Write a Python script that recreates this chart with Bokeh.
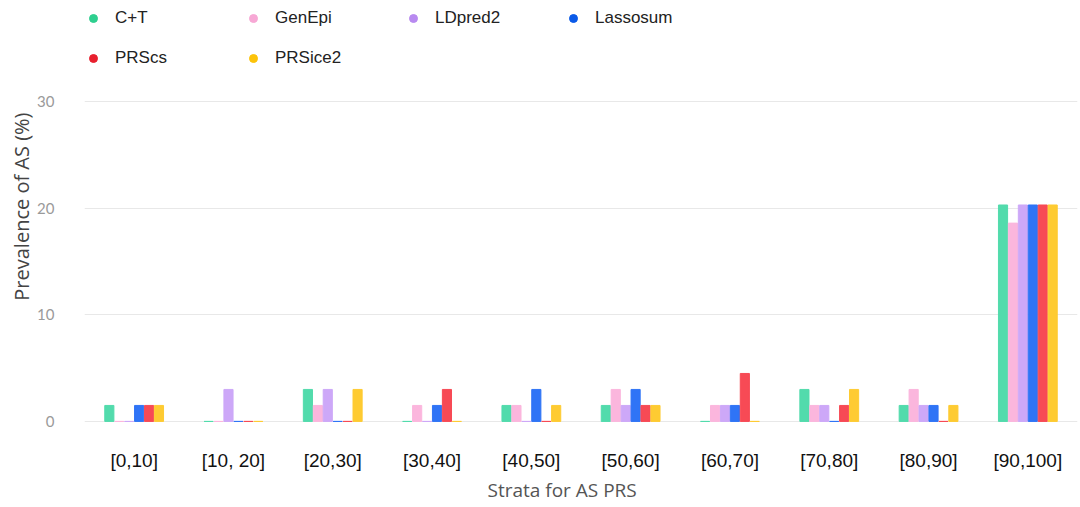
from bokeh.plotting import figure
from bokeh.models import ColumnDataSource, Range1d, Legend, LegendItem, Title, FactorRange, FixedTicker
from bokeh.transform import dodge
from bokeh.embed import file_html
from bokeh.resources import INLINE

strata = ["[0,10]", "[10, 20]", "[20,30]", "[30,40]", "[40,50]",
          "[50,60]", "[60,70]", "[70,80]", "[80,90]", "[90,100]"]
methods = ["C+T", "GenEpi", "LDpred2", "Lassosum", "PRScs", "PRSice2"]
ct = [1.5, 0, 3.0, 0, 1.5, 1.5, 0, 3.0, 1.5, 20.3]
genepi = [0, 0, 1.5, 1.5, 1.5, 3.0, 1.5, 1.5, 3.0, 18.6]
ldpred2 = [0, 3.0, 3.0, 0, 0, 1.5, 1.5, 1.5, 1.5, 20.3]
lassosum = [1.5, 0, 0, 1.5, 3.0, 3.0, 1.5, 0, 1.5, 20.3]
prscs = [1.5, 0, 0, 3.0, 0, 1.5, 4.5, 1.5, 0, 20.3]
prsice2 = [1.5, 0, 3.0, 0, 1.5, 1.5, 0, 3.0, 1.5, 20.3]
y_ticks = [0, 10, 20, 30]

bar_colors = ["#52dbac", "#fbb6dd", "#cda8f8", "#2f74f6", "#f74a55", "#fecb32"]
dot_colors = ["#2ecf8f", "#f7a8d5", "#b88af0", "#0a5ae8", "#e8202e", "#fcc30a"]
series = [ct, genepi, ldpred2, lassosum, prscs, prsice2]

src = ColumnDataSource(dict(strata=strata, **{m: s for m, s in zip(methods, series)}))

# frame spans from canvas top; the legend sits inside the frame's upper area
p = figure(x_range=FactorRange(factors=strata), y_range=Range1d(-0.1, 39.48),
           width=1080, height=507, output_backend="svg", toolbar_location=None,
           min_border_left=84, min_border_right=3, min_border_top=0, min_border_bottom=85)
p.outline_line_color = None
p.xgrid.grid_line_color = None
p.ygrid.grid_line_color = "#e8e8e8"
p.yaxis.ticker = FixedTicker(ticks=y_ticks)
for ax in (p.xaxis, p.yaxis):
    ax.axis_line_color = None
    ax.major_tick_line_color = None
    ax.minor_tick_line_color = None
p.xaxis.major_label_text_font = "Liberation Sans"
p.xaxis.major_label_text_font_size = "19px"
p.xaxis.major_label_text_color = "#111111"
p.xaxis.major_label_standoff = 21
p.yaxis.major_label_text_font = "Lato"
p.yaxis.major_label_text_font_size = "15px"
p.yaxis.major_label_text_color = "#9a9a9a"
p.yaxis.major_label_standoff = 24

offsets = [-0.25, -0.15, -0.05, 0.05, 0.15, 0.25]
for m, off, c in zip(methods, offsets, bar_colors):
    p.vbar(x=dodge("strata", off, range=p.x_range), top=m, bottom=0, width=0.092,
           source=src, fill_color=c, line_color=c, line_width=1)

items = []
for m, c in zip(methods, dot_colors):
    r = p.scatter(x=[strata[0]], y=[float("nan")], size=8, fill_color=c, line_color=c,
                  marker="circle")
    items.append(LegendItem(label=m, renderers=[r]))

legend = Legend(items=items, location=(-1, 354), orientation="horizontal", ncols=4,
                glyph_width=20, glyph_height=20, label_standoff=12, label_width=108,
                spacing=20, padding=0, margin=0, border_line_color=None,
                background_fill_alpha=0, label_text_font="Liberation Sans",
                label_text_font_size="17px", label_text_color="#222222")
p.add_layout(legend, "center")

xt = Title(text="Strata for AS PRS", align="left", offset=403, text_font="Open Sans",
           text_font_size="19px", text_color="#555555", text_font_style="normal", standoff=2)
p.add_layout(xt, "below")
yt = Title(text="Prevalence of AS (%)", align="right", offset=112, text_font="Open Sans",
           text_font_size="20px", text_color="#444444", text_font_style="normal", standoff=0)
p.add_layout(yt, "left")

open("out.html", "w").write(file_html(p, INLINE))
